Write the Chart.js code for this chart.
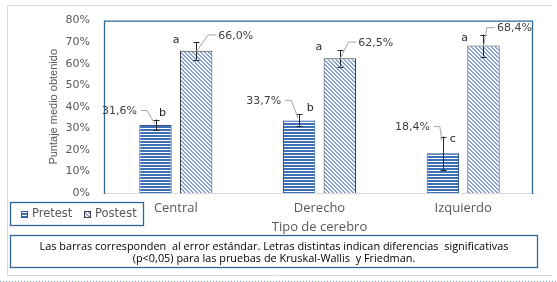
<!DOCTYPE html>
<html>
<head>
<meta charset="utf-8">
<script src="https://cdn.jsdelivr.net/npm/chart.js@4.4.1/dist/chart.umd.min.js"></script>
<style>
html,body{margin:0;padding:0;background:#fff;}
canvas{display:block;}
</style>
</head>
<body>
<canvas id="c" width="557" height="282"></canvas>
<script>
// ---- data ----
const categories = ['Central', 'Derecho', 'Izquierdo'];
const pretest = [31.6, 33.7, 18.4];
const postest = [66.0, 62.5, 68.4];
const pretestErr = [2.5, 2.8, 7.8];
const postestErr = [4.1, 3.8, 5.1];
const pretestLetters = ['b', 'b', 'c'];
const postestLetters = ['a', 'a', 'a'];
const seriesNames = ['Pretest', 'Postest'];
const xTitle = 'Tipo de cerebro';
const yTitle = 'Puntaje medio obtenido';
const noteLines = [
  'Las barras corresponden  al error estándar. Letras distintas indican diferencias  significativas',
  '(p<0,05) para las pruebas de Kruskal-Wallis  y Friedman.'
];

// ---- annotation placement (pixel offsets relative to bars) ----
const preLabelOff = [[-18.5, -8], [-18, -13], [-13, -9]];   // label right edge / center y vs error top
const postLabelOff = [[22, -6], [18.5, -7], [13.5, -6]];    // label left edge / center y vs error top
const preLetterOff = [[7, -6.5], [11, -6], [10, 3]];
const postLetterOff = [[-20, -2], [-21, -2.5], [-19, 3.5]];

const fmt = v => v.toFixed(1).replace('.', ',') + '%';

function makeStripes() {
  const c = document.createElement('canvas');
  c.width = 4; c.height = 3;
  const x = c.getContext('2d');
  x.fillStyle = '#ffffff'; x.fillRect(0, 0, 4, 3);
  x.fillStyle = '#3F6FB5'; x.fillRect(0, 0, 4, 2);
  return x.createPattern(c, 'repeat');
}
function makeHatch() {
  const c = document.createElement('canvas');
  c.width = 4; c.height = 4;
  const x = c.getContext('2d');
  x.fillStyle = '#ffffff'; x.fillRect(0, 0, 4, 4);
  x.fillStyle = '#86A4D6';
  for (let yy = 0; yy < 4; yy++) for (let xx = 0; xx < 4; xx++) {
    const d = ((xx - yy) % 4 + 4) % 4;
    if (d === 0 || d === 1) x.fillRect(xx, yy, 1, 1);
  }
  return x.createPattern(c, 'repeat');
}
const ctx0 = document.getElementById('c').getContext('2d');
const stripePat = makeStripes();
const hatchPat = makeHatch();

const frame = {
  id: 'frame',
  beforeDraw(chart) {
    const ctx = chart.ctx;
    ctx.save();
    ctx.fillStyle = '#fff';
    ctx.fillRect(0, 0, chart.width, chart.height);
    ctx.strokeStyle = '#D9D9D9';
    ctx.lineWidth = 1;
    ctx.beginPath();
    ctx.moveTo(7.5, 275); ctx.lineTo(7.5, 5.5); ctx.lineTo(552, 5.5);
    ctx.moveTo(7, 275.5); ctx.lineTo(552, 275.5);
    ctx.stroke();
    ctx.strokeStyle = '#7FA3A8';
    ctx.setLineDash([1, 2]);
    ctx.beginPath();
    ctx.moveTo(0, 281.5); ctx.lineTo(557, 281.5);
    ctx.stroke();
    ctx.restore();
  },
  afterDatasetsDraw(chart) {
    const ctx = chart.ctx;
    const a = chart.chartArea;
    const ys = chart.scales.y;
    ctx.save();
    // plot border
    ctx.strokeStyle = '#D9D9D9';
    ctx.lineWidth = 1;
    ctx.beginPath();
    ctx.moveTo(a.left, a.bottom + 0.5); ctx.lineTo(a.right, a.bottom + 0.5);
    ctx.stroke();
    ctx.strokeStyle = '#2F6599';
    ctx.lineWidth = 1.3;
    ctx.beginPath();
    ctx.moveTo(a.left + 0.5, a.bottom + 1); ctx.lineTo(a.left + 0.5, a.top + 0.5);
    ctx.lineTo(a.right - 2.5, a.top + 0.5); ctx.lineTo(a.right - 2.5, a.bottom + 1);
    ctx.stroke();

    const sets = [
      {vals: pretest, err: pretestErr, letters: pretestLetters, lab: preLabelOff, let: preLetterOff, side: 'pre'},
      {vals: postest, err: postestErr, letters: postestLetters, lab: postLabelOff, let: postLetterOff, side: 'post'}
    ];
    sets.forEach((s, di) => {
      const meta = chart.getDatasetMeta(di);
      meta.data.forEach((bar, i) => {
        const cx = Math.round(bar.x) + 0.5;
        const v = s.vals[i], e = s.err[i];
        const yTop = ys.getPixelForValue(v + e);
        const yBot = ys.getPixelForValue(v - e);
        const yVal = ys.getPixelForValue(v);
        // error bar
        ctx.strokeStyle = '#262626';
        ctx.lineWidth = 1;
        ctx.setLineDash([]);
        ctx.beginPath();
        ctx.moveTo(cx, yTop); ctx.lineTo(cx, yBot);
        ctx.moveTo(cx - 3, Math.round(yTop) + 0.5); ctx.lineTo(cx + 3, Math.round(yTop) + 0.5);
        ctx.moveTo(cx - 3, Math.round(yBot) + 0.5); ctx.lineTo(cx + 3, Math.round(yBot) + 0.5);
        ctx.stroke();
        // data label + leader
        ctx.font = '11px "DejaVu Sans"';
        ctx.textBaseline = 'middle';
        ctx.fillStyle = '#404040';
        const lx = bar.x + s.lab[i][0];
        const ly = yTop + s.lab[i][1];
        ctx.strokeStyle = '#A6A6A6';
        ctx.beginPath();
        if (s.side === 'pre') {
          ctx.textAlign = 'right';
          ctx.fillText(fmt(v), lx, ly);
          const ex = Math.min(lx + 10, bar.x - 1);
          ctx.moveTo(lx + 4, ly - 1); ctx.lineTo(ex, ly - 1);
          ctx.lineTo(bar.x - 1, yTop + 4);
        } else {
          ctx.textAlign = 'left';
          ctx.fillText(fmt(v), lx, ly);
          const ex = Math.max(lx - 10, bar.x + 2);
          ctx.moveTo(lx - 2, ly - 1); ctx.lineTo(ex, ly - 1);
          ctx.lineTo(bar.x, yVal + 1);
        }
        ctx.stroke();
        // letter
        ctx.fillStyle = '#262626';
        ctx.textAlign = 'center';
        ctx.fillText(s.letters[i], bar.x + s.let[i][0], yTop + s.let[i][1]);
      });
    });

    // legend box
    ctx.strokeStyle = '#2F6599';
    ctx.lineWidth = 1.3;
    ctx.strokeRect(10.5, 202.5, 133, 23);
    const items = [{x: 21, pat: stripePat, stroke: '#2F5597'}, {x: 84, pat: hatchPat, stroke: '#404040'}];
    items.forEach((it, k) => {
      ctx.fillStyle = it.pat;
      ctx.fillRect(it.x, 211, 7, 7);
      ctx.strokeStyle = it.stroke;
      ctx.lineWidth = 1;
      ctx.strokeRect(it.x + 0.5, 211.5, 6, 6);
      ctx.fillStyle = '#595959';
      ctx.font = '11.5px "DejaVu Sans"';
      ctx.textAlign = 'left';
      ctx.textBaseline = 'middle';
      ctx.fillText(seriesNames[k], it.x + 11, 214.5);
    });

    // note box
    ctx.strokeStyle = '#2F6599';
    ctx.lineWidth = 1.3;
    ctx.strokeRect(10.5, 235.5, 527, 32);
    ctx.fillStyle = '#000';
    ctx.font = '10.9px "Open Sans"';
    ctx.textAlign = 'center';
    ctx.fillText(noteLines[0], 274, 246.5);
    ctx.fillText(noteLines[1], 274, 258.5);
    ctx.restore();
  }
};

new Chart(ctx0, {
  type: 'bar',
  data: {
    labels: categories,
    datasets: [
      {label: seriesNames[0], data: pretest, backgroundColor: stripePat, borderColor: '#2F5597', borderWidth: 1,
       categoryPercentage: 0.566, barPercentage: 0.796},
      {label: seriesNames[1], data: postest, backgroundColor: hatchPat, borderColor: '#404040', borderWidth: 1,
       categoryPercentage: 0.566, barPercentage: 0.796}
    ]
  },
  options: {
    responsive: false,
    animation: false,
    devicePixelRatio: 1,
    layout: {padding: {left: 0, top: 18, right: 22, bottom: 45}},
    plugins: {legend: {display: false}, tooltip: {enabled: false}},
    scales: {
      x: {
        grid: {display: false, drawTicks: false},
        border: {display: false},
        ticks: {color: '#595959', font: {family: 'Open Sans', size: 13}, padding: 7},
        title: {display: true, text: xTitle, color: '#595959', font: {family: 'Open Sans', size: 13}, padding: {top: 0, bottom: 2}},
        afterFit(s) { s.height = 44; }
      },
      y: {
        min: 0, max: 80,
        grid: {display: false, drawTicks: false},
        border: {display: false},
        ticks: {stepSize: 10, color: '#595959', font: {family: 'DejaVu Sans', size: 11}, padding: 14,
                callback: v => v + '%'},
        title: {display: true, text: yTitle, color: '#595959', font: {family: 'Liberation Sans', size: 11}, padding: {top: 47, bottom: 0}},
        afterFit(s) { s.width = 104; }
      }
    }
  },
  plugins: [frame]
});
</script>
</body>
</html>
